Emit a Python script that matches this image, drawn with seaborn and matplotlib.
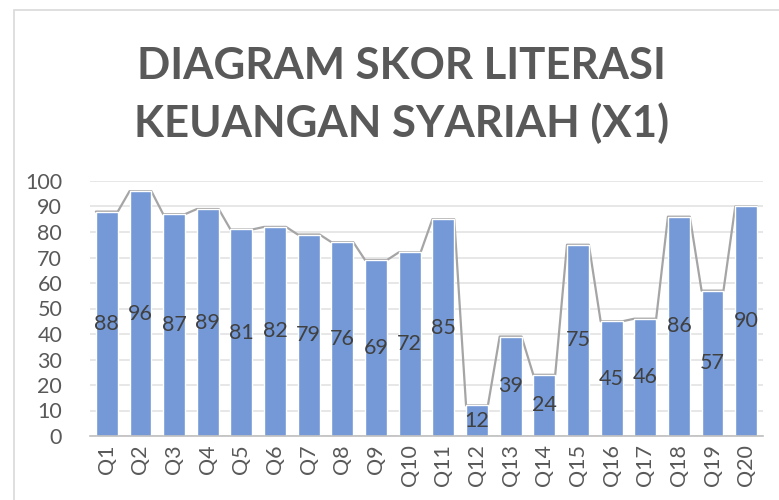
import matplotlib
matplotlib.use("Agg")
import matplotlib.pyplot as plt
import seaborn as sns
import pandas as pd
import numpy as np
from matplotlib.patches import Rectangle

categories = [f"Q{i}" for i in range(1, 21)]
scores = [88, 96, 87, 89, 81, 82, 79, 76, 69, 72, 85, 12, 39, 24, 75, 45, 46, 86, 57, 90]
yticks = [0, 10, 20, 30, 40, 50, 60, 70, 80, 90, 100]
title = "DIAGRAM SKOR LITERASI\nKEUANGAN SYARIAH (X1)"

sns.set_theme(style="white")
plt.rcParams['font.family'] = ['Lato', 'DejaVu Sans']

df = pd.DataFrame({"q": categories, "score": scores})

fig = plt.figure(figsize=(7.79, 5.0), dpi=100)
fig.patches.append(Rectangle((14/779, -0.1), 1.2, 1 - 10/500 + 0.1, transform=fig.transFigure,
                             fill=False, edgecolor="#d9d9d9", linewidth=1.2))
ax = fig.add_axes([90/779, 64/500, (763-90)/779, (436-181)/500])

bar_w = 0.65
sns.barplot(data=df, x="q", y="score", color="#7499d6", saturation=1, width=bar_w,
            ax=ax, zorder=3)

# gray line along bar tops
xs, ys = [], []
for i, v in enumerate(scores):
    xs += [i - bar_w/2, i + bar_w/2]
    ys += [v, v]
ax.plot(xs, ys, color="#a5a5a5", linewidth=1.6, zorder=2)

ax.bar_label(ax.containers[0], labels=[str(v) for v in scores], label_type="center",
             fontsize=15.5, color="#404040")

ax.set_ylim(0, 100)
ax.set_xlim(-0.5, len(categories) - 0.5)
ax.set_yticks(yticks)
ax.yaxis.grid(True, color="#e3e3e3", linewidth=1.2, zorder=0)
ax.set_axisbelow(True)
for s in ["top", "right", "left"]:
    ax.spines[s].set_visible(False)
ax.spines["bottom"].set_color("#bfbfbf")
ax.spines["bottom"].set_linewidth(1.2)
ax.spines["bottom"].set_zorder(4)
ax.tick_params(axis="y", labelsize=15.5, labelcolor="#595959", length=0, pad=20)
ax.tick_params(axis="x", labelsize=15.5, labelcolor="#595959", length=0, pad=6, rotation=90)
ax.set_xlabel("")
ax.set_ylabel("")

fig.text(0.5 * (139 + 664) / 779, 1 - 95/500, title, ha="center", va="center",
         fontsize=31.5, fontweight="bold", color="#595959", linespacing=1.5)

fig.savefig("out.png", dpi=100)
